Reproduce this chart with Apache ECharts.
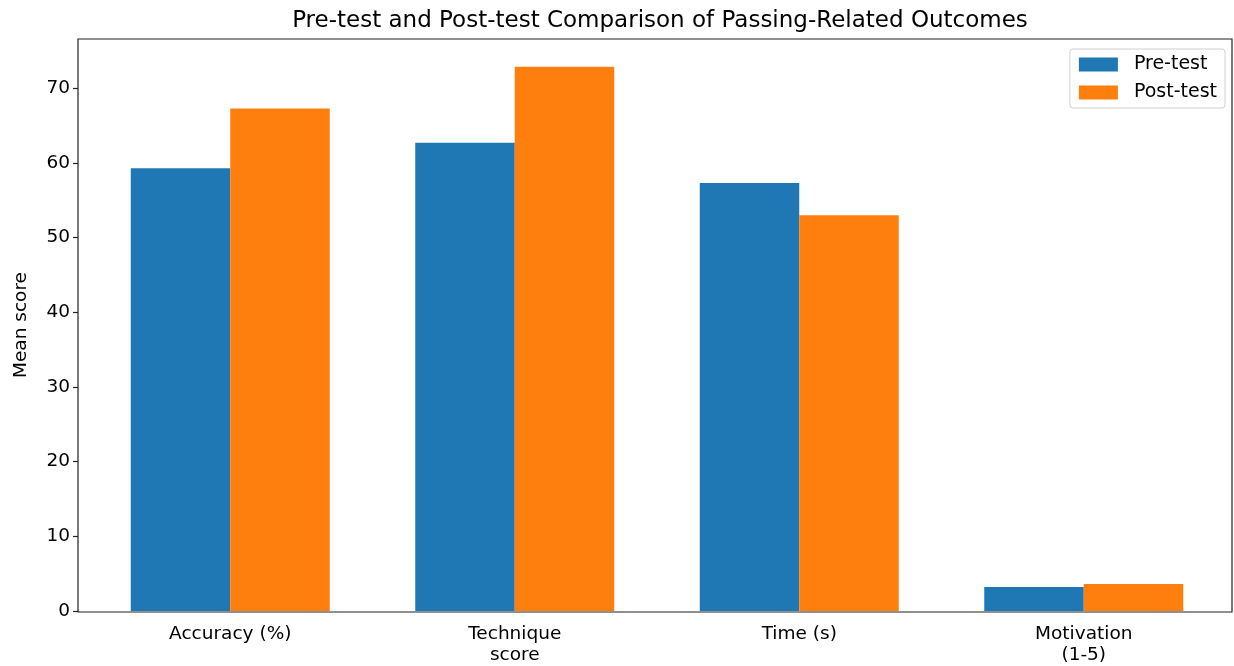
<!DOCTYPE html>
<html><head><meta charset="utf-8">
<script src="https://cdn.jsdelivr.net/npm/echarts@6/dist/echarts.min.js"></script>
<style>html,body{margin:0;padding:0;background:#fff}#c{width:1234px;height:666px}</style>
</head><body><div id="c"></div>
<script>
const categories = ['Accuracy (%)', 'Technique\nscore', 'Time (s)', 'Motivation\n(1-5)'];
const preTest = [59.3, 62.7, 57.3, 3.2];
const postTest = [67.3, 72.9, 53.0, 3.6];
const yTicks = [0, 10, 20, 30, 40, 50, 60, 70];

const font = 'DejaVu Sans';
const chart = echarts.init(document.getElementById('c'), null, {renderer: 'canvas'});
chart.setOption({
  animation: false,
  title: {
    text: 'Pre-test and Post-test Comparison of Passing-Related Outcomes',
    left: 655, top: 5, textAlign: 'center',
    textStyle: {fontFamily: font, fontSize: 23, fontWeight: 'normal', color: '#000'}
  },
  legend: {
    right: 9, top: 49, orient: 'vertical',
    itemWidth: 39, itemHeight: 14, itemGap: 9,
    padding: [6, 8, 6, 9],
    borderColor: '#d0d0d0', borderWidth: 1, borderRadius: 3,
    icon: 'rect',
    textStyle: {fontFamily: font, fontSize: 19, lineHeight: 19, color: '#000', padding: [0, 0, 0, 11]},
    data: ['Pre-test', 'Post-test']
  },
  grid: [
    {left: 78, right: 2, top: 39, bottom: 54, show: true, borderColor: '#222', borderWidth: 1.2},
    {left: 88, right: 8, top: 39, bottom: 54}
  ],
  xAxis: {
    type: 'category', data: categories, gridIndex: 1,
    axisLine: {show: false},
    axisTick: {alignWithLabel: true, length: 5, lineStyle: {color: '#222', width: 1.2}},
    axisLabel: {fontFamily: font, fontSize: 18.5, color: '#000', margin: 13, lineHeight: 21}
  },
  yAxis: {
    type: 'value', min: 0, max: 76.6, gridIndex: 1, offset: 10,
    name: 'Mean score', nameLocation: 'middle', nameGap: 47,
    nameTextStyle: {fontFamily: font, fontSize: 18.5, color: '#000'},
    axisLine: {show: false},
    axisTick: {show: true, length: 5, customValues: yTicks, lineStyle: {color: '#222', width: 1.2}},
    splitLine: {show: false},
    axisLabel: {fontFamily: font, fontSize: 18.5, color: '#000', margin: 8, customValues: yTicks}
  },
  series: [
    {name: 'Pre-test', type: 'bar', data: preTest, barWidth: 99.5, barGap: '0%',
     xAxisIndex: 0, yAxisIndex: 0, itemStyle: {color: '#1f77b4'}},
    {name: 'Post-test', type: 'bar', data: postTest, barWidth: 99.5, barGap: '0%',
     xAxisIndex: 0, yAxisIndex: 0, itemStyle: {color: '#ff7f0e'}}
  ]
});
</script></body></html>
